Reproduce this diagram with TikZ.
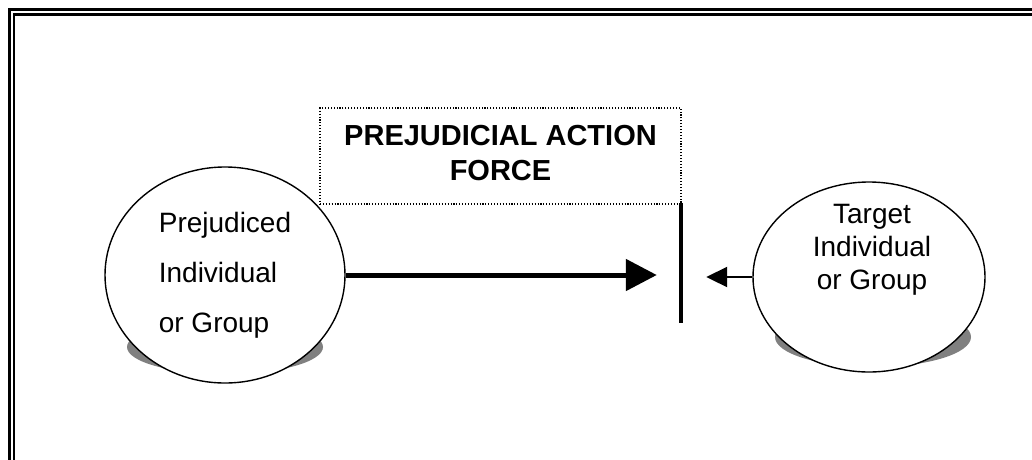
\documentclass[tikz,border=0pt]{standalone}
\usepackage{fontspec}
\setmainfont{Liberation Sans}
\usetikzlibrary{arrows.meta,shapes.geometric}
\definecolor{shade}{HTML}{808080}
\tikzset{
  frameline/.style={line width=3pt},
  innerline/.style={line width=2.4pt},
  party/.style={
    ellipse,
    draw=black,
    line width=1.4pt,
    fill=white,
    inner sep=0pt,
    align=center
  },
  blob/.style={ellipse, fill=shade, draw=none, inner sep=0pt},
  forcebox/.style={
    draw=black,
    line width=1.1pt,
    dash pattern=on 1.1pt off 1.8pt,
    inner sep=0pt,
    minimum width=361pt,
    minimum height=96pt,
    align=center,
    font=\fontsize{29}{35}\selectfont\bfseries
  },
  barrier/.style={fill=black, draw=none, inner sep=0pt, minimum width=4pt, minimum height=120pt},
  push/.style={line width=5pt, -{Triangle[length=31pt,width=31pt]}, shorten >=22pt},
  resist/.style={line width=2pt, -{Triangle[length=21pt,width=20pt]}, shorten >=23pt},
  caption/.style={align=center, inner sep=0pt, font=\fontsize{28}{33}\selectfont}
}

\begin{document}
\begin{tikzpicture}[x=1pt,y=-1pt]
\useasboundingbox (0,0) rectangle (1032,459);
\clip (0,0) rectangle (1032,459);
\fill[white] (0,0) rectangle (1032,459);

% double page frame, cut at right and bottom
\draw[frameline] (9.5,9.2) rectangle (1045,470);
\draw[innerline] (14,14.5) rectangle (1040,465);

\node[forcebox] (force) at (500.5,156) {};
\node[font=\fontsize{29}{35}\selectfont\bfseries, align=center, inner sep=0pt] (forcetext) at (500.5,153) {PREJUDICIAL ACTION\\FORCE};
\node[barrier] (wall) at (681,263) {};

\node[blob, minimum width=196pt, minimum height=54pt] (prejshadow) at (225,347) {};
\node[blob, minimum width=196pt, minimum height=60pt] (targetshadow) at (873,337) {};

\node[party, minimum width=240pt, minimum height=216pt, align=left,
  font=\fontsize{28}{50}\selectfont] (prejudiced) at (225,275) {Prejudiced\\Individual\\or Group};
\node[party, minimum width=232pt, minimum height=190pt] (target) at (869,277) {};
\node[caption] (targetlabel) at (872,250) {Target\\Individual\\or Group};

\draw[push] (prejudiced.east) -- (prejudiced.east -| wall.west);
\draw[resist] (target.west) -- (target.west -| wall.east);
\end{tikzpicture}
\end{document}
